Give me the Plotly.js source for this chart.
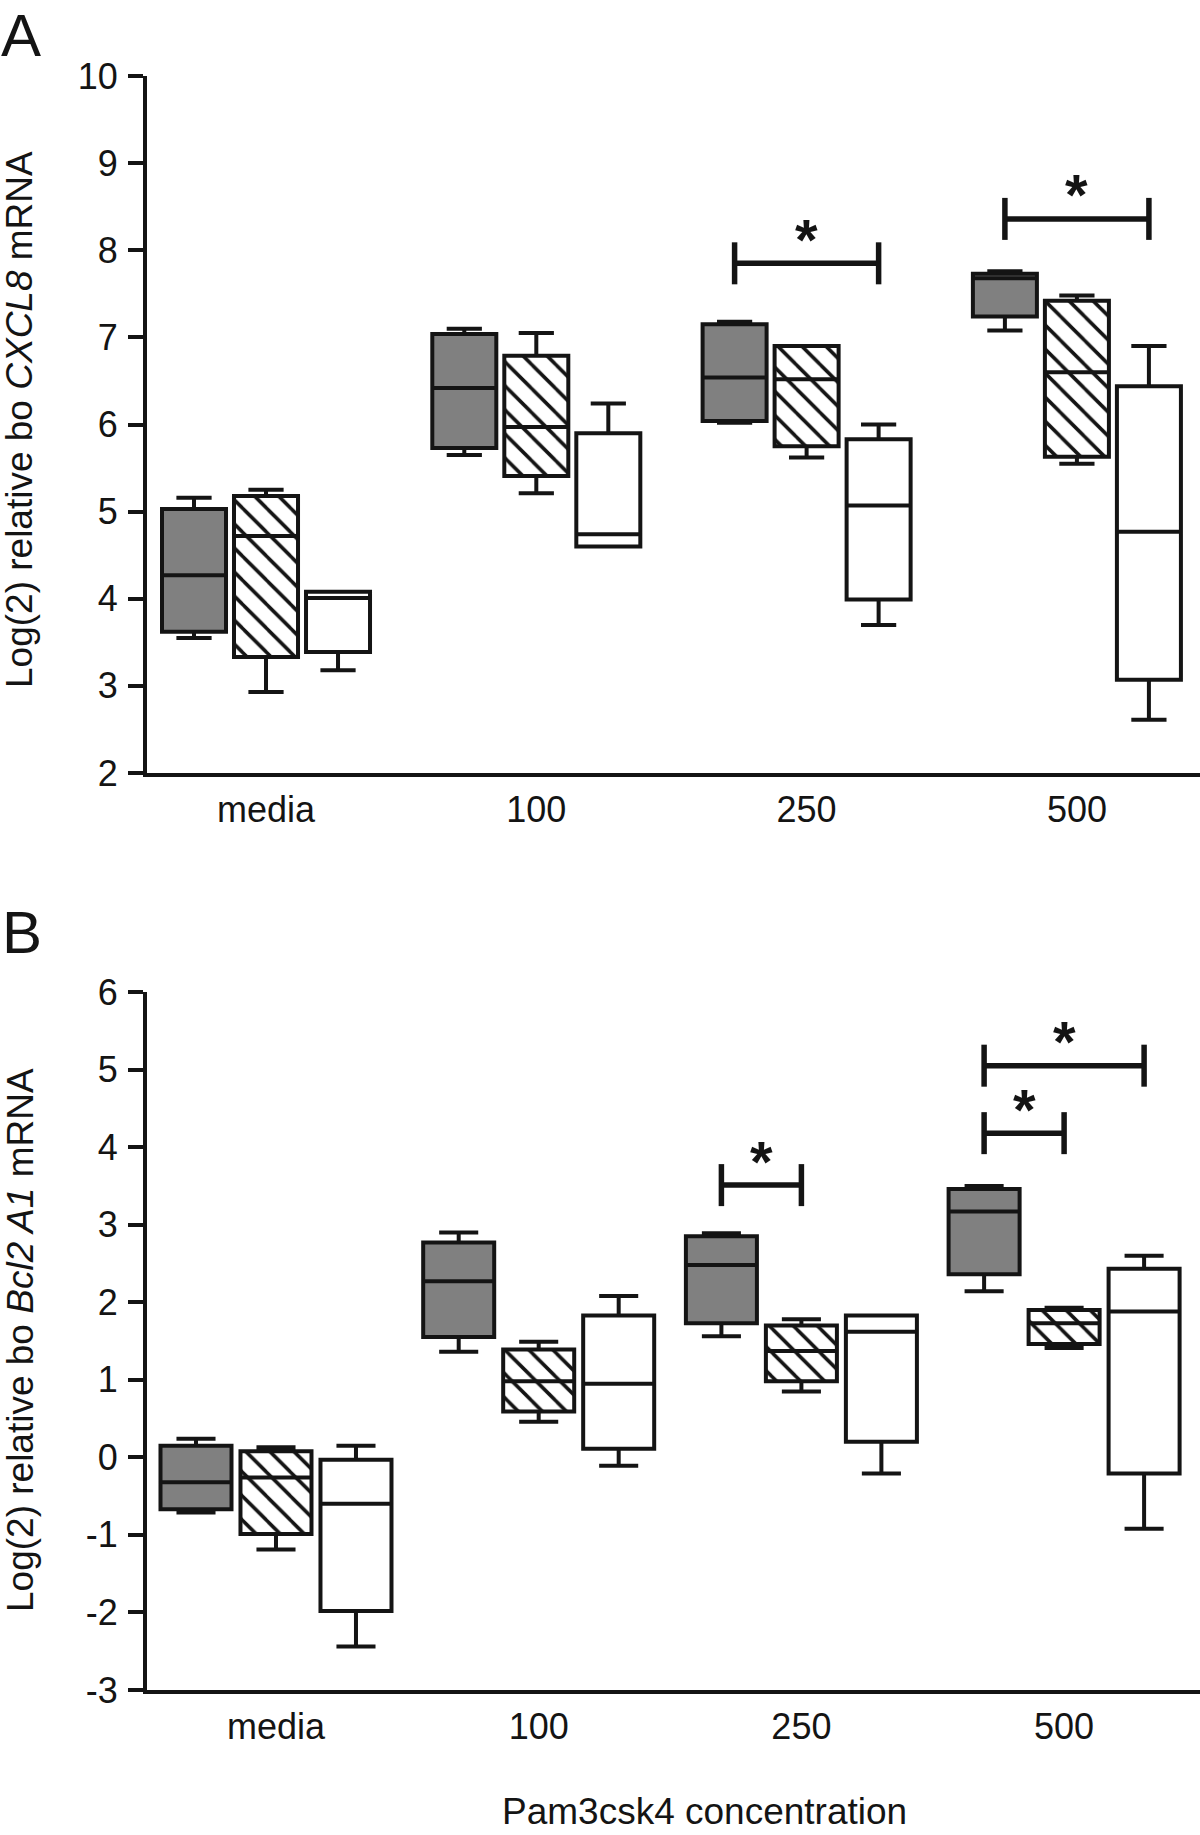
<!DOCTYPE html>
<html><head><meta charset="utf-8">
<script src="https://cdn.plot.ly/plotly-3.0.1.min.js"></script>
<style>html,body{margin:0;padding:0;background:#fff}#chart{width:1200px;height:1835px}</style>
</head><body><div id="chart"></div>
<script>
// ---------------- DATA ----------------
const categories = ['media', '100', '250', '500'];
const seriesNames = ['solid', 'hatched', 'open'];   // order: grey, hatched, white

// Panel A: Log(2) relative bo CXCL8 mRNA   (rows = series, cols = categories)
const cxcl8Lower  = [[3.55, 5.65, 6.02, 7.08], [2.93, 5.21, 5.62, 5.55], [3.18, 4.60, 3.70, 2.61]];
const cxcl8Q1     = [[3.62, 5.73, 6.04, 7.24], [3.33, 5.41, 5.75, 5.63], [3.39, 4.60, 3.99, 3.07]];
const cxcl8Median = [[4.27, 6.42, 6.54, 7.68], [4.72, 5.97, 6.52, 6.60], [4.01, 4.74, 5.07, 4.77]];
const cxcl8Q3     = [[5.03, 7.04, 7.15, 7.73], [5.18, 6.79, 6.90, 7.42], [4.08, 5.90, 5.83, 6.44]];
const cxcl8Upper  = [[5.16, 7.10, 7.18, 7.76], [5.25, 7.05, 6.90, 7.48], [4.08, 6.24, 6.00, 6.90]];
const cxcl8Ticks  = [2, 3, 4, 5, 6, 7, 8, 9, 10];
// significance brackets panel A
const cxcl8SigGroup = [2, 3];
const cxcl8SigFrom  = [0, 0];
const cxcl8SigTo    = [2, 2];
const cxcl8SigY     = [7.85, 8.36];

// Panel B: Log(2) relative bo Bcl2 A1 mRNA
const bcl2Lower  = [[-0.71, 1.36, 1.56, 2.14], [-1.19, 0.46, 0.85, 1.41], [-2.44, -0.11, -0.21, -0.92]];
const bcl2Q1     = [[-0.67, 1.55, 1.73, 2.36], [-0.99, 0.59, 0.98, 1.46], [-1.98, 0.11, 0.20, -0.21]];
const bcl2Median = [[-0.32, 2.27, 2.48, 3.17], [-0.26, 0.98, 1.37, 1.73], [-0.60, 0.95, 1.62, 1.88]];
const bcl2Q3     = [[0.15, 2.77, 2.85, 3.46], [0.08, 1.39, 1.70, 1.90], [-0.03, 1.83, 1.83, 2.43]];
const bcl2Upper  = [[0.24, 2.90, 2.89, 3.50], [0.13, 1.49, 1.78, 1.93], [0.15, 2.08, 1.83, 2.60]];
const bcl2Ticks  = [-3, -2, -1, 0, 1, 2, 3, 4, 5, 6];
// significance brackets panel B
const bcl2SigGroup = [2, 3, 3];
const bcl2SigFrom  = [0, 0, 0];
const bcl2SigTo    = [1, 1, 2];
const bcl2SigY     = [3.51, 4.18, 5.05];

const yTitleA = 'Log(2) relative bo <i>CXCL8</i> mRNA';
const yTitleB = 'Log(2) relative bo <i>Bcl2 A1</i> mRNA';
const xTitle = 'Pam3csk4 concentration';

// ---------------- STYLE / LAYOUT ----------------
const W = 1200, H = 1835, ML = 147, MR = 0, MT = 76, MB = 145;
const PW = W - ML - MR, PH = H - MT - MB;
const px2x = p => (p - ML) / PW;
const px2y = p => (H - MB - p) / PH;
const FONT = 'Liberation Sans, Arial, Helvetica, sans-serif';
const INK = '#141414';
const fills = ['#808080', 'rgba(0,0,0,0)', '#ffffff'];

const panels = [
  { xa: 'x', ya: 'y', offset: 0.2664, width: 0.2368,
    lower: cxcl8Lower, q1: cxcl8Q1, med: cxcl8Median, q3: cxcl8Q3, upper: cxcl8Upper,
    sg: cxcl8SigGroup, sf: cxcl8SigFrom, st: cxcl8SigTo, sy: cxcl8SigY },
  { xa: 'x2', ya: 'y2', offset: 0.3045, width: 0.2703,
    lower: bcl2Lower, q1: bcl2Q1, med: bcl2Median, q3: bcl2Q3, upper: bcl2Upper,
    sg: bcl2SigGroup, sf: bcl2SigFrom, st: bcl2SigTo, sy: bcl2SigY }
];

const traces = [];
const starNotes = [];
panels.forEach(P => {
  seriesNames.forEach((name, s) => {
    const pos = categories.map((c, i) => i + (s - 1) * P.offset);
    if (s === 1) {
      traces.push({
        type: 'bar', x: pos, base: P.q1[s], y: P.q3[s].map((v, i) => v - P.q1[s][i]),
        width: P.width, xaxis: P.xa, yaxis: P.ya, hoverinfo: 'skip', showlegend: false,
        marker: { color: '#ffffff', line: { width: 0 },
          pattern: { shape: '\\', size: 17, solidity: 0.21, fgcolor: INK, bgcolor: '#ffffff', fillmode: 'replace' } }
      });
    }
    traces.push({
      type: 'box', name: name, x: pos,
      lowerfence: P.lower[s], q1: P.q1[s], median: P.med[s], q3: P.q3[s], upperfence: P.upper[s],
      width: P.width, whiskerwidth: 0.55, boxpoints: false,
      fillcolor: fills[s], line: { color: INK, width: 4 },
      xaxis: P.xa, yaxis: P.ya, showlegend: false
    });
  });
  // brackets
  P.sg.forEach((g, k) => {
    const x1 = g + (P.sf[k] - 1) * P.offset, x2 = g + (P.st[k] - 1) * P.offset;
    traces.push({
      type: 'scatter', mode: 'lines+markers', x: [x1, x2], y: [P.sy[k], P.sy[k]],
      xaxis: P.xa, yaxis: P.ya, showlegend: false, hoverinfo: 'skip',
      line: { color: INK, width: 5.5 },
      marker: { symbol: 'line-ns', size: 30, color: INK, line: { color: INK, width: 5.5 } }
    });
    starNotes.push({
      text: '<b>*</b>', xref: P.xa, yref: P.ya, x: (x1 + x2) / 2, y: P.sy[k],
      xanchor: 'center', yanchor: 'middle', yshift: 24, showarrow: false,
      font: { family: FONT, size: 58, color: INK }
    });
  });
});

const tickFont = { family: FONT, size: 36, color: INK };
const xBase = { tickvals: categories.map((c, i) => i), ticktext: categories, showline: true, linewidth: 4,
  linecolor: INK, ticks: '', showgrid: false, zeroline: false, tickfont: tickFont, ticklabelstandoff: 2, fixedrange: true };
const yBase = { tickmode: 'array', ticks: 'outside', ticklen: 15, tickwidth: 4, tickcolor: INK, showline: true, linewidth: 4,
  linecolor: INK, showgrid: false, zeroline: false, tickfont: tickFont, ticklabelstandoff: 3, fixedrange: true };

const layout = {
  width: W, height: H, margin: { l: ML, r: MR, t: MT, b: MB, pad: 0 },
  paper_bgcolor: '#ffffff', plot_bgcolor: '#ffffff', showlegend: false,
  boxmode: 'overlay', barmode: 'overlay',
  font: { family: FONT, color: INK },
  xaxis: Object.assign({}, xBase, { anchor: 'y', domain: [0, 1], range: [-0.4403, 3.4554] }),
  yaxis: Object.assign({}, yBase, { anchor: 'x', domain: [px2y(773), 1], range: [2, 10],
    tickvals: cxcl8Ticks, ticktext: cxcl8Ticks.map(v => String(v)) }),
  xaxis2: Object.assign({}, xBase, { anchor: 'y2', domain: [0, 1], range: [-0.4910, 3.5173] }),
  yaxis2: Object.assign({}, yBase, { anchor: 'x2', domain: [0, px2y(992)], range: [-3, 6],
    tickvals: bcl2Ticks, ticktext: bcl2Ticks.map(v => String(v)) }),
  annotations: [
    { text: 'A', xref: 'paper', yref: 'paper', x: px2x(0), y: px2y(1), xanchor: 'left', yanchor: 'top',
      showarrow: false, borderpad: 0, font: { family: FONT, size: 60, color: INK } },
    { text: 'B', xref: 'paper', yref: 'paper', x: px2x(0), y: px2y(953 - 0.35 * 60), xanchor: 'left', yanchor: 'middle',
      showarrow: false, font: { family: FONT, size: 60, color: INK } },
    { text: yTitleA, xref: 'paper', yref: 'paper', x: px2x(20), y: px2y(420), xanchor: 'center', yanchor: 'middle',
      textangle: -90, showarrow: false, font: { family: FONT, size: 37, color: INK } },
    { text: yTitleB, xref: 'paper', yref: 'paper', x: px2x(20), y: px2y(1340), xanchor: 'center', yanchor: 'middle',
      textangle: -90, showarrow: false, font: { family: FONT, size: 37, color: INK } },
    { text: xTitle, xref: 'paper', yref: 'paper', x: px2x(704), y: px2y(1824 - 0.35 * 37), xanchor: 'center', yanchor: 'middle',
      showarrow: false, font: { family: FONT, size: 37, color: INK } }
  ].concat(starNotes)
};

Plotly.newPlot('chart', traces, layout, { staticPlot: true, displayModeBar: false });
</script>
</body></html>
